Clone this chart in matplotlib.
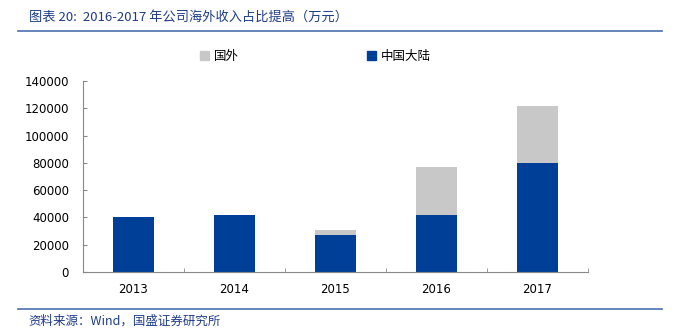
import matplotlib
matplotlib.use("Agg")
import matplotlib.pyplot as plt
import numpy as np
from matplotlib.lines import Line2D
from matplotlib.patches import Rectangle

plt.rcParams['font.family'] = ['Noto Sans CJK SC', 'DejaVu Sans']

years = ['2013', '2014', '2015', '2016', '2017']
mainland = [40300, 41800, 26800, 41800, 80000]
overseas = [0, 0, 4000, 35200, 41700]
series_names = ['国外', '中国大陆']
title = '图表 20:  2016-2017 年公司海外收入占比提高（万元）'
source = '资料来源：Wind，国盛证券研究所'

blue = '#003f98'
grey = '#c8c8c8'
txt_blue = '#1f3c88'

fig = plt.figure(figsize=(6.86, 3.34), dpi=100)
ax = fig.add_axes([0.121, 0.186, 0.736, 0.571])

x = np.arange(len(years))
ax.bar(x, mainland, width=0.41, color=blue, zorder=2)
ax.bar(x, overseas, width=0.41, bottom=mainland, color=grey, zorder=2)

ax.set_xlim(-0.5, len(years) - 0.5)
ax.set_ylim(0, 140000)
ax.set_yticks(np.arange(0, 140001, 20000))
ax.set_yticklabels([str(v) for v in range(0, 140001, 20000)], fontsize=8.5, family='DejaVu Sans')
ax.set_xticks(x)
ax.set_xticklabels(years, fontsize=8.5, family='DejaVu Sans')
ax.tick_params(axis='x', length=0, pad=8)
ax.set_xticks(np.arange(-0.5, len(years), 1), minor=True)
ax.tick_params(axis='x', which='minor', length=3, color='#888888', direction='in')
ax.tick_params(axis='y', length=3, color='#888888', direction='in', pad=10)
for s in ['top', 'right']:
    ax.spines[s].set_visible(False)
for s in ['left', 'bottom']:
    ax.spines[s].set_color('#888888')
    ax.spines[s].set_linewidth(0.8)

# legend
handles = [Rectangle((0, 0), 1, 1, color=grey), Rectangle((0, 0), 1, 1, color=blue)]
fig.legend(handles, series_names, loc='center', bbox_to_anchor=(0.46, 0.832), ncol=2,
           frameon=False, fontsize=9, handlelength=0.7, handleheight=0.7,
           handletextpad=0.4, columnspacing=10.3)

# title and lines
fig.text(0.042, 0.948, title, fontsize=9.5, color=txt_blue, style='italic', va='center')
fig.add_artist(Line2D([0.026, 0.965], [0.907, 0.907], color='#4a6fb0', lw=1.2))
fig.add_artist(Line2D([0.026, 0.965], [0.075, 0.075], color='#4a6fb0', lw=1.2))
fig.text(0.042, 0.038, source, fontsize=9, color=txt_blue, style='italic', va='center')

fig.savefig('out.png', dpi=100)
